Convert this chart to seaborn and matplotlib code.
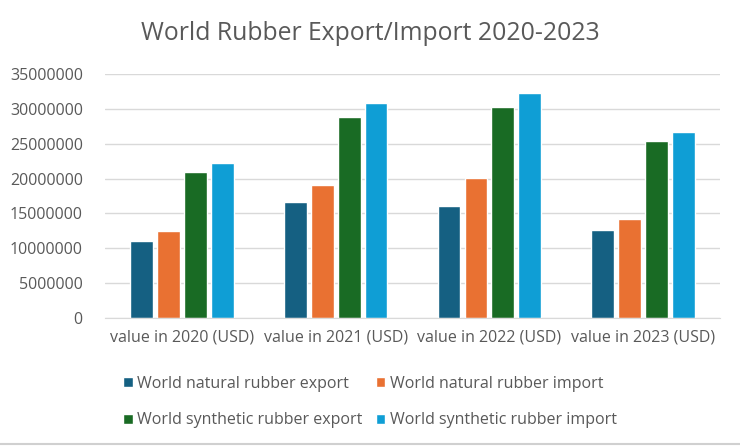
import matplotlib
matplotlib.use("Agg")
import matplotlib.pyplot as plt
import seaborn as sns
import pandas as pd

# Datos
categorias = ['value in 2020 (USD)', 'value in 2021 (USD)', 'value in 2022 (USD)', 'value in 2023 (USD)']
series = ['World natural rubber export', 'World natural rubber import',
          'World synthetic rubber export', 'World synthetic rubber import']
natural_export = [10980000, 16590000, 16060000, 12560000]
natural_import = [12470000, 19080000, 20040000, 14140000]
synthetic_export = [20950000, 28770000, 30200000, 25410000]
synthetic_import = [22250000, 30880000, 32220000, 26700000]
colores = ['#156082', '#E97132', '#196B24', '#0F9ED5']

valores = [natural_export, natural_import, synthetic_export, synthetic_import]
filas = []
for s, vals in zip(series, valores):
    for c, v in zip(categorias, vals):
        filas.append({'categoria': c, 'serie': s, 'valor': v})
df = pd.DataFrame(filas)

sns.set_style('white')
plt.rcParams['font.family'] = ['Open Sans', 'DejaVu Sans']
gris = '#595959'

fig = plt.figure(figsize=(7.4, 4.46), dpi=100)
ax = fig.add_axes([0.142, 0.287, 0.831, 0.547])

sns.barplot(data=df, x='categoria', y='valor', hue='serie', palette=colores,
            order=categorias, hue_order=series, width=0.70, gap=0.15,
            saturation=1, ax=ax, legend=True)

ax.set_ylim(0, 35000000)
ax.set_yticks(range(0, 35000001, 5000000))
ax.set_yticklabels([str(v) for v in range(0, 35000001, 5000000)])
ax.yaxis.grid(True, color='#D9D9D9', linewidth=1)
ax.set_axisbelow(True)
for lado in ['top', 'right', 'left']:
    ax.spines[lado].set_visible(False)
ax.spines['bottom'].set_color('#D9D9D9')
ax.tick_params(axis='both', length=0, colors=gris, labelsize=11.5)
ax.tick_params(axis='y', pad=16)
ax.tick_params(axis='x', pad=8)
ax.set_xlabel('')
ax.set_ylabel('')

# leyenda por filas: exportación/importación natural arriba, sintética abajo
handles, labels = ax.get_legend_handles_labels()
ax.get_legend().remove()
orden = [0, 2, 1, 3]
fig.legend([handles[i] for i in orden], [labels[i] for i in orden],
           loc='upper center', bbox_to_anchor=(0.5, 0.19), ncol=2,
           frameon=False, fontsize=11.5, labelcolor=gris, handlelength=0.6,
           handleheight=0.6, handletextpad=0.3, columnspacing=0.8, labelspacing=1.3)

fig.text(0.5, 0.925, 'World Rubber Export/Import 2020-2023', ha='center', va='center',
         fontsize=17.8, color=gris)
fig.add_artist(plt.Line2D([0, 1], [0.004, 0.004], color='#D0D0D0', linewidth=1.5))

plt.savefig('out.png', dpi=100)
plt.close()
